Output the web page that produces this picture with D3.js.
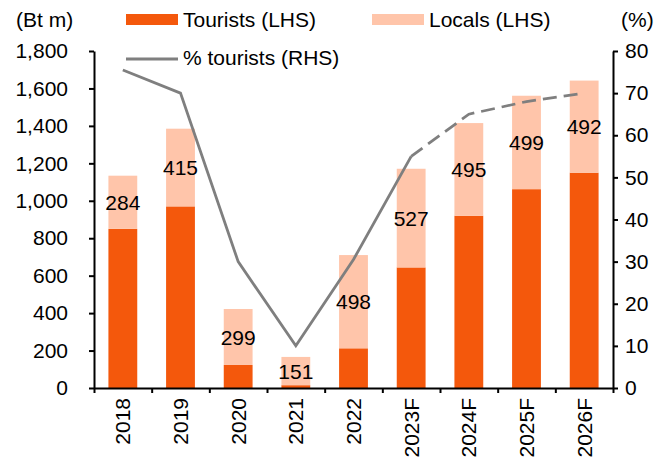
<!DOCTYPE html>
<html><head><meta charset="utf-8">
<script src="https://cdn.jsdelivr.net/npm/d3@7"></script>
<style>
body{margin:0;background:#fff;}
text{font-family:"Liberation Sans",Arial,sans-serif;fill:#000;}
</style></head>
<body><svg id="c" width="661" height="463"></svg>
<script>
const categories = ["2018","2019","2020","2021","2022","2023F","2024F","2025F","2026F"];
const tourists = [850, 970, 123, 15, 212, 644, 920, 1062, 1150];
const locals = [284, 415, 299, 151, 498, 527, 495, 499, 492];
const pctTourists = [75.5, 70, 30, 10, 30.5, 55, 65, 68, 70];
const leftTicks = [0,200,400,600,800,1000,1200,1400,1600,1800];
const rightTicks = [0,10,20,30,40,50,60,70,80];

const svg = d3.select("#c");
const L = 94, R = 613, T = 51, B = 388;
const FS = "21px";
const cOrange = "#F4580C", cPeach = "#FFC5AA", cGray = "#7F7F7F";

const x = d3.scaleBand().domain(categories).range([L, R]).paddingInner(0.5).paddingOuter(0.25);
const xb = d3.scaleLinear().domain([0, categories.length]).range([L, R]);
const yL = d3.scaleLinear().domain([0, 1800]).range([B, T]);
const yR = d3.scaleLinear().domain([0, 80]).range([B, T]);

// bars
const g = svg.append("g");
g.selectAll("rect.t").data(categories).join("rect").attr("class","t")
  .attr("x", d => x(d)).attr("width", x.bandwidth())
  .attr("y", (d,i) => yL(tourists[i])).attr("height", (d,i) => yL(0) - yL(tourists[i]))
  .attr("fill", cOrange);
g.selectAll("rect.l").data(categories).join("rect").attr("class","l")
  .attr("x", d => x(d)).attr("width", x.bandwidth())
  .attr("y", (d,i) => yL(tourists[i] + locals[i])).attr("height", (d,i) => yL(tourists[i]) - yL(tourists[i] + locals[i]))
  .attr("fill", cPeach);

// labels for locals
g.selectAll("text.lab").data(categories).join("text").attr("class","lab")
  .attr("x", d => x(d) + x.bandwidth()/2)
  .attr("y", (d,i) => (yL(tourists[i]) + yL(tourists[i] + locals[i]))/2)
  .attr("dy", "0.36em").attr("text-anchor","middle").style("font-size", FS)
  .text((d,i) => locals[i]);

// line
const cx = i => x(categories[i]) + x.bandwidth()/2;
const line = d3.line().x(d => cx(d)).y(d => yR(pctTourists[d]));
svg.append("path").datum([0,1,2,3,4,5]).attr("d", line)
  .attr("fill","none").attr("stroke", cGray).attr("stroke-width", 2.8);
svg.append("path").datum([5,6,7,8]).attr("d", line)
  .attr("fill","none").attr("stroke", cGray).attr("stroke-width", 2.8).attr("stroke-dasharray","14,7");

// axes
function styleAxis(sel){
  sel.selectAll(".domain").attr("stroke","#000").attr("stroke-width",2);
  sel.selectAll(".tick line").attr("stroke","#000").attr("stroke-width",2);
  sel.selectAll("text").style("font-size", FS).attr("fill","#000");
}
const axL = svg.append("g").attr("transform",`translate(${L},0)`)
  .call(d3.axisLeft(yL).tickValues(leftTicks).tickSize(5).tickSizeOuter(0).tickPadding(21).tickFormat(d3.format(",")));
styleAxis(axL);
const axR = svg.append("g").attr("transform",`translate(${R},0)`)
  .call(d3.axisRight(yR).tickValues(rightTicks).tickSize(5).tickSizeOuter(0).tickPadding(7));
styleAxis(axR);
const axB = svg.append("g").attr("transform",`translate(0,${B})`)
  .call(d3.axisBottom(xb).tickValues(d3.range(categories.length+1)).tickSize(5).tickSizeOuter(0).tickFormat(""));
styleAxis(axB);
const axB2 = svg.append("g").attr("transform",`translate(0,${B})`)
  .call(d3.axisBottom(x).tickSize(0).tickSizeOuter(0));
axB2.select(".domain").remove();
axB2.selectAll("text").style("font-size", FS)
  .attr("transform","rotate(-90)").attr("text-anchor","end")
  .attr("x", -10).attr("y", 0).attr("dy","0.36em");

// axis titles
svg.append("text").attr("x", 16).attr("y", 27).style("font-size", FS).text("(Bt m)");
svg.append("text").attr("x", 621).attr("y", 27).style("font-size", FS).text("(%)");

// legend
const lg = svg.append("g");
lg.append("rect").attr("x",126).attr("y",14).attr("width",52).attr("height",11).attr("fill",cOrange);
lg.append("text").attr("x",183).attr("y",27).style("font-size",FS).text("Tourists (LHS)");
lg.append("rect").attr("x",372).attr("y",14).attr("width",52).attr("height",11).attr("fill",cPeach);
lg.append("text").attr("x",429).attr("y",27).style("font-size",FS).text("Locals (LHS)");
lg.append("line").attr("x1",126).attr("x2",178).attr("y1",59).attr("y2",59).attr("stroke",cGray).attr("stroke-width",2.8);
lg.append("text").attr("x",183).attr("y",65).style("font-size",FS).text("% tourists (RHS)");
</script></body></html>
